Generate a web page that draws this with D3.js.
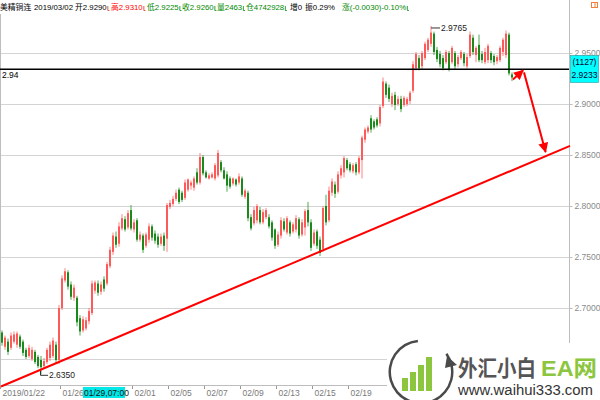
<!DOCTYPE html>
<html><head><meta charset="utf-8">
<script src="https://cdn.jsdelivr.net/npm/d3@7/dist/d3.min.js"></script>
<style>
body{margin:0;background:#fff}
svg{display:block}
text{font-family:"Liberation Sans",Arial,"Noto Sans CJK SC",sans-serif}
</style>
</head><body>
<svg id="c" width="600" height="400"></svg>
<script>
// ---- data (4h candles, COMEX copper continuous) ----
const open=[2.676,2.662,2.667,2.661,2.667,2.664,2.672,2.667,2.659,2.653,
2.650,2.657,2.652,2.649,2.643,2.647,2.651,2.653,2.664,2.649,
2.700,2.727,2.735,2.723,2.710,2.710,2.690,2.678,2.680,2.687,
2.695,2.717,2.724,2.716,2.728,2.724,2.741,2.755,2.770,2.763,
2.778,2.787,2.779,2.796,2.777,2.786,2.767,2.771,2.761,2.767,
2.780,2.773,2.770,2.763,2.771,2.768,2.799,2.802,2.807,2.816,
2.813,2.808,2.816,2.820,2.818,2.833,2.823,2.848,2.833,2.827,
2.828,2.827,2.830,2.843,2.835,2.831,2.827,2.822,2.826,2.823,
2.827,2.809,2.813,2.789,2.783,2.786,2.796,2.784,2.789,2.789,
2.784,2.777,2.762,2.771,2.785,2.774,2.784,2.775,2.777,2.787,
2.772,2.779,2.796,2.784,2.763,2.775,2.767,2.758,2.800,2.786,
2.813,2.821,2.814,2.830,2.833,2.845,2.841,2.834,2.841,2.833,
2.845,2.865,2.873,2.886,2.883,2.885,2.881,2.898,2.920,2.916,
2.900,2.909,2.900,2.905,2.899,2.900,2.903,2.913,2.935,2.945,
2.937,2.945,2.953,2.959,2.969,2.953,2.949,2.945,2.941,2.950,
2.941,2.950,2.939,2.945,2.949,2.937,2.947,2.965,2.948,2.958,
2.949,2.941,2.943,2.950,2.947,2.942,2.943,2.951,2.948,2.968,
2.929];
const high=[2.678,2.673,2.670,2.676,2.677,2.677,2.674,2.669,2.661,2.664,
2.662,2.659,2.654,2.653,2.651,2.661,2.667,2.671,2.667,2.703,
2.732,2.739,2.737,2.726,2.723,2.712,2.693,2.692,2.691,2.700,
2.727,2.727,2.727,2.726,2.731,2.745,2.760,2.774,2.775,2.784,
2.792,2.790,2.796,2.801,2.787,2.788,2.775,2.773,2.774,2.783,
2.782,2.776,2.773,2.773,2.774,2.803,2.806,2.810,2.816,2.818,
2.815,2.826,2.827,2.825,2.829,2.837,2.852,2.850,2.835,2.832,
2.833,2.842,2.855,2.845,2.838,2.834,2.829,2.828,2.827,2.832,
2.829,2.817,2.815,2.792,2.799,2.802,2.799,2.797,2.798,2.792,
2.786,2.778,2.775,2.789,2.788,2.790,2.786,2.784,2.791,2.789,
2.787,2.797,2.804,2.787,2.777,2.777,2.770,2.800,2.811,2.819,
2.827,2.824,2.834,2.840,2.849,2.847,2.843,2.842,2.843,2.849,
2.869,2.877,2.879,2.889,2.885,2.887,2.899,2.926,2.922,2.919,
2.911,2.912,2.908,2.908,2.908,2.907,2.913,2.942,2.951,2.948,
2.952,2.961,2.965,2.9765,2.971,2.956,2.952,2.948,2.953,2.952,
2.957,2.952,2.948,2.953,2.951,2.949,2.971,2.968,2.957,2.968,
2.952,2.955,2.959,2.952,2.949,2.948,2.957,2.965,2.972,2.970,
2.931];
const low=[2.663,2.659,2.654,2.659,2.665,2.661,2.660,2.653,2.650,2.651,
2.648,2.645,2.641,2.635,2.641,2.645,2.648,2.651,2.646,2.645,
2.698,2.725,2.718,2.708,2.707,2.682,2.673,2.676,2.678,2.684,
2.693,2.714,2.712,2.713,2.716,2.722,2.739,2.752,2.759,2.760,
2.776,2.775,2.777,2.776,2.774,2.765,2.765,2.754,2.759,2.764,
2.766,2.763,2.759,2.761,2.756,2.755,2.797,2.800,2.805,2.802,
2.804,2.806,2.814,2.816,2.815,2.821,2.821,2.830,2.827,2.826,
2.827,2.825,2.828,2.833,2.826,2.814,2.817,2.820,2.819,2.821,
2.809,2.807,2.785,2.776,2.781,2.783,2.782,2.782,2.787,2.778,
2.766,2.758,2.760,2.768,2.775,2.772,2.770,2.773,2.774,2.768,
2.770,2.771,2.780,2.756,2.761,2.758,2.751,2.755,2.781,2.784,
2.810,2.808,2.812,2.827,2.828,2.835,2.833,2.832,2.830,2.831,
2.827,2.862,2.871,2.872,2.875,2.877,2.878,2.896,2.906,2.902,
2.897,2.894,2.898,2.892,2.897,2.898,2.900,2.911,2.933,2.933,
2.934,2.943,2.951,2.956,2.948,2.941,2.936,2.933,2.939,2.932,
2.939,2.934,2.936,2.943,2.937,2.935,2.945,2.948,2.941,2.941,
2.940,2.939,2.940,2.940,2.938,2.939,2.941,2.947,2.945,2.928,
2.9225];
const close=[2.666,2.671,2.657,2.673,2.674,2.675,2.662,2.656,2.652,2.661,
2.659,2.647,2.643,2.642,2.648,2.659,2.664,2.668,2.649,2.700,
2.729,2.736,2.721,2.711,2.720,2.686,2.677,2.689,2.688,2.697,
2.724,2.725,2.715,2.723,2.719,2.743,2.757,2.771,2.762,2.780,
2.788,2.777,2.793,2.778,2.784,2.767,2.772,2.757,2.772,2.780,
2.769,2.766,2.762,2.770,2.761,2.801,2.803,2.807,2.813,2.804,
2.806,2.823,2.826,2.823,2.827,2.823,2.848,2.832,2.828,2.830,
2.831,2.840,2.852,2.835,2.827,2.820,2.819,2.827,2.821,2.829,
2.811,2.815,2.788,2.778,2.796,2.800,2.784,2.794,2.796,2.780,
2.769,2.761,2.772,2.786,2.777,2.788,2.773,2.782,2.788,2.771,
2.784,2.795,2.784,2.759,2.774,2.761,2.754,2.798,2.784,2.815,
2.824,2.812,2.831,2.837,2.847,2.837,2.835,2.840,2.833,2.847,
2.867,2.875,2.877,2.875,2.877,2.879,2.897,2.922,2.909,2.905,
2.908,2.899,2.905,2.895,2.906,2.905,2.911,2.939,2.949,2.935,
2.950,2.959,2.963,2.970,2.951,2.944,2.939,2.935,2.951,2.934,
2.955,2.937,2.946,2.951,2.940,2.946,2.968,2.951,2.955,2.943,
2.943,2.951,2.957,2.943,2.941,2.946,2.955,2.963,2.969,2.930,
2.926];

const gridTicks=[2.65,2.70,2.75,2.80,2.85,2.90,2.95];
const labelTicks=[2.70,2.75,2.80,2.85,2.90,2.95];
const dateIdx=[0,20,44,56,68,80,92,104,116];
const dateLabels=["2019/01/22","01/26","02/01","02/05","02/07","02/09","02/13","02/15","02/19"];
const cursorIdx=27, cursorLabel="01/29,07:00";
const refLine=2.934, refLabel="2.94";
const lastPrice=2.9233, lastCount="(1127)";
const highIdx=143, highVal=2.9765, lowIdx=13, lowVal=2.635;
const trendLine=[[-0.33,2.623],[189.33,2.859]];
const arrowSmall=[[170.3,2.924],[173.7,2.933]];
const arrowBig=[[174,2.931],[181.2,2.853]];
const headerParts=[
 {t:"美精铜连",x:0,c:"#000"},{t:"2019/03/02",x:34,c:"#000"},{t:"开2.9290",x:75,c:"#000",m:"#e03020"},
 {t:"高2.9310",x:111,c:"#ff0000",m:"#e03020"},{t:"低2.9225",x:147,c:"#008800",m:"#008800"},
 {t:"收2.9260",x:182,c:"#008800",m:"#008800"},{t:"量2463",x:217,c:"#008800",m:"#008800"},
 {t:"仓4742928",x:246,c:"#008800",m:"#008800"},{t:"增0",x:290,c:"#000"},{t:"振0.29%",x:305,c:"#000"},
 {t:"涨(-0.0030)-0.10%",x:342,c:"#008800",m:"#008800"}];

// ---- drawing ----
const svg=d3.select("#c");
const W=569, B=385;
const x=d3.scaleLinear().domain([-0.667,189.333]).range([0,570]);
const y=d3.scaleLinear().domain([2.65,2.95]).range([359,53]);

svg.append("rect").attr("width",600).attr("height",400).attr("fill","#fff");

// gridlines
svg.append("g").selectAll("line").data(gridTicks).join("line")
 .attr("x1",0).attr("x2",W).attr("y1",d=>Math.round(y(d))+0.5).attr("y2",d=>Math.round(y(d))+0.5)
 .attr("stroke","#d4d4d4").attr("stroke-width",1);

// frame lines
svg.append("line").attr("x1",W+0.5).attr("x2",W+0.5).attr("y1",0).attr("y2",400).attr("stroke","#bdbdbd");
svg.append("line").attr("x1",0.5).attr("x2",0.5).attr("y1",14).attr("y2",B).attr("stroke","#bdbdbd");
svg.append("line").attr("x1",0).attr("x2",W).attr("y1",B+0.5).attr("y2",B+0.5).attr("stroke","#bdbdbd");

// right price axis
const ya=svg.append("g").attr("transform",`translate(${W+0.5},0)`)
 .call(d3.axisRight(y).tickValues(labelTicks).tickFormat(d3.format(".4f")).tickSize(3).tickPadding(2));
ya.select(".domain").remove();
ya.selectAll("line").attr("stroke","#bdbdbd");
ya.selectAll("text").attr("font-size",8.5).attr("fill","#8a8a8a");

// bottom date axis
const xa=svg.append("g").attr("transform",`translate(0,${B+1})`)
 .call(d3.axisBottom(x).tickValues(dateIdx).tickFormat((d,i)=>dateLabels[i]).tickSize(3).tickPadding(2));
xa.select(".domain").remove();
xa.selectAll("line").attr("stroke","#999").attr("transform","translate(-2,0)");
xa.selectAll("text").attr("font-size",8.5).attr("fill","#7a7a7a").attr("text-anchor","start").attr("dy","0.55em").attr("dx",0);

// cursor date box
const cx0=x(cursorIdx);
const cg=svg.append("g");
cg.append("rect").attr("x",cx0).attr("y",B+2).attr("width",42).attr("height",11).attr("fill","#00e8e8");
cg.append("text").attr("x",cx0+1).attr("y",B+11).attr("font-size",8.5).attr("fill","#111").text(cursorLabel);

// candles
const plot=svg.append("g");
const data=close.map((c,i)=>({i,o:open[i],h:high[i],l:low[i],c}));
const up="#ff5a5a", dn="#1a8a1a";
plot.selectAll("line.w").data(data).join("line").attr("class","w")
 .attr("x1",d=>x(d.i)).attr("x2",d=>x(d.i)).attr("y1",d=>y(d.h)).attr("y2",d=>y(d.l))
 .attr("stroke",d=>d.c>=d.o?up:dn).attr("stroke-width",1).attr("opacity",0.75);
plot.selectAll("rect.b").data(data).join("rect").attr("class","b")
 .attr("x",d=>x(d.i)-1).attr("width",2)
 .attr("y",d=>y(Math.max(d.o,d.c))).attr("height",d=>Math.max(1,Math.abs(y(d.o)-y(d.c))))
 .attr("fill",d=>d.c>=d.o?up:dn);

// reference line
svg.append("line").attr("x1",0).attr("x2",W).attr("y1",y(refLine)).attr("y2",y(refLine))
 .attr("stroke","#000").attr("stroke-width",1.5);
svg.append("text").attr("x",2).attr("y",y(refLine)+9).attr("font-size",8.5).attr("fill","#000").text(refLabel);

// high / low markers
const hx=x(highIdx), hy=y(highVal);
svg.append("path").attr("d",`M${hx},${hy+2}H${hx+9}`).attr("stroke","#333").attr("fill","none");
svg.append("text").attr("x",hx+10).attr("y",hy+5).attr("font-size",8.5).attr("fill","#222").text(highVal.toFixed(4));
const lx=x(lowIdx), ly=y(lowVal);
svg.append("path").attr("d",`M${lx-0.5},${ly-4}V${ly+1}H${lx+7}`).attr("stroke","#333").attr("fill","none");
svg.append("text").attr("x",lx+8).attr("y",ly+4).attr("font-size",8.5).attr("fill","#222").text(lowVal.toFixed(4));

// trend line and arrows
const lineGen=d3.line().x(d=>x(d[0])).y(d=>y(d[1]));
svg.append("path").attr("d",lineGen(trendLine)).attr("stroke","#ff0000").attr("stroke-width",2).attr("fill","none");
const defs=svg.append("defs");
defs.append("marker").attr("id","ah").attr("viewBox","0 0 10 10").attr("refX",9).attr("refY",5)
 .attr("markerWidth",5.5).attr("markerHeight",5).attr("orient","auto")
 .append("path").attr("d","M0,0L10,5L0,10z").attr("fill","#ff0000");
svg.append("path").attr("d",lineGen(arrowSmall)).attr("stroke","#ff0000").attr("stroke-width",2).attr("fill","none").attr("marker-end","url(#ah)");
svg.append("path").attr("d",lineGen(arrowBig)).attr("stroke","#ff0000").attr("stroke-width",2).attr("fill","none").attr("marker-end","url(#ah)");

// last price box
const lb=svg.append("g");
lb.append("rect").attr("x",W+1.5).attr("y",55.5).attr("width",28).attr("height",27).attr("fill","#00ffff").attr("stroke","#2a9a9a").attr("stroke-width",0.6);
lb.append("text").attr("x",W+15.5).attr("y",65).attr("text-anchor","middle").attr("font-size",8.5).attr("fill","#003").text(lastCount);
lb.append("text").attr("x",W+15.5).attr("y",78).attr("text-anchor","middle").attr("font-size",8.5).attr("fill","#003").text(lastPrice.toFixed(4));

// header
const hg=svg.append("g");
headerParts.forEach(p=>{
  const t=hg.append("text").attr("x",p.x).attr("y",10).attr("font-size",7.8).attr("fill",p.c).text(p.t);
  if(p.m){
    const w=t.node().getComputedTextLength();
    hg.append("path").attr("d",`M${p.x+w+1.2},6V10.5H${p.x+w+2.8}`).attr("stroke",p.m).attr("stroke-width",0.8).attr("fill","none");
  }
});
hg.append("rect").attr("x",591.5).attr("y",2.5).attr("width",6).attr("height",5).attr("fill","none").attr("stroke","#f08040");
hg.append("line").attr("x1",595).attr("x2",595).attr("y1",2.5).attr("y2",7.5).attr("stroke","#f08040");

// watermark
const wm=svg.append("g");
wm.append("rect").attr("x",387).attr("y",343).attr("width",213).attr("height",57).attr("fill","#fff");
wm.append("path").attr("d",d3.arc()({innerRadius:30,outerRadius:32.5,startAngle:0.95,endAngle:2*Math.PI-0.1}))
 .attr("transform","translate(421,372)").attr("fill","#4a4a4a");
const bars=[[402,378],[410,372],[418,365],[426,357]];
wm.selectAll("rect.g").data(bars).join("rect").attr("class","g")
 .attr("x",d=>d[0]).attr("y",d=>d[1]).attr("width",6).attr("height",d=>391-d[1]).attr("fill","#8cc63f");
wm.append("path").attr("d","M447,356 L457,365 L445,368 Z").attr("fill","#4a4a4a");
wm.append("text").attr("x",458).attr("y",376).attr("font-size",22).attr("font-weight","bold")
 .attr("font-family","Noto Sans CJK SC").attr("fill","#555").attr("textLength",78).attr("lengthAdjust","spacingAndGlyphs").text("外汇小白");
wm.append("text").attr("x",541).attr("y",376).attr("font-size",22).attr("font-weight","bold")
 .attr("font-family","Noto Sans CJK SC").attr("fill","#8cc63f").attr("textLength",56).attr("lengthAdjust","spacingAndGlyphs").text("EA网");
wm.append("text").attr("x",458).attr("y",395).attr("font-size",14).attr("fill","#333")
 .attr("textLength",135).attr("lengthAdjust","spacingAndGlyphs").text("www.waihui333.com");
</script>
</body></html>
